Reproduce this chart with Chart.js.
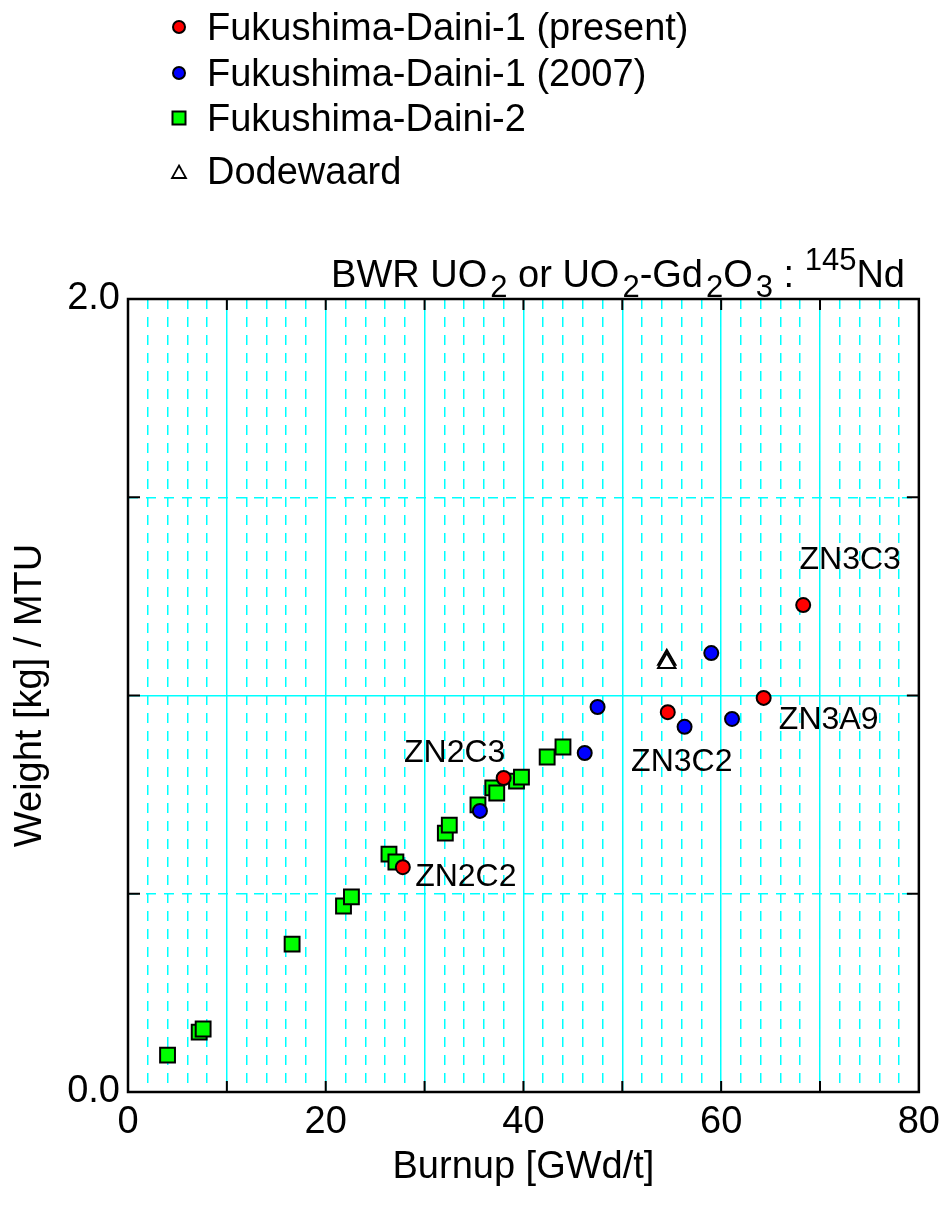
<!DOCTYPE html>
<html>
<head>
<meta charset="utf-8">
<script src="https://cdn.jsdelivr.net/npm/chart.js@4.4.0/dist/chart.umd.min.js"></script>
<style>
  html, body { margin: 0; padding: 0; background: #fff; }
  #wrap { width: 948px; height: 1218px; position: relative; }
</style>
</head>
<body>
<div id="wrap"><canvas id="chart"></canvas></div>
<script>
// Fukushima-Daini-1 (present) - labelled samples
const presentBurnup = [27.8, 38.0, 54.6, 64.3, 68.3];
const presentWeight = [0.567, 0.792, 0.958, 0.994, 1.228];
const presentLabels = ['ZN2C2', 'ZN2C3', 'ZN3C2', 'ZN3A9', 'ZN3C3'];

// Fukushima-Daini-1 (2007)
const fd1Burnup = [35.6, 46.2, 47.5, 56.3, 59.0, 61.1];
const fd1Weight = [0.709, 0.855, 0.971, 0.921, 1.107, 0.941];

// Fukushima-Daini-2
const fd2Burnup = [4.0, 7.2, 7.6, 16.6, 21.8, 22.6, 26.4, 27.1, 32.1, 32.5, 35.4, 36.9, 37.3, 39.3, 39.8, 42.4, 44.0];
const fd2Weight = [0.093, 0.151, 0.159, 0.373, 0.469, 0.492, 0.600, 0.580, 0.653, 0.673, 0.724, 0.767, 0.754, 0.784, 0.794, 0.845, 0.870];

// Dodewaard
const dodBurnup = [54.5, 54.5];
const dodWeight = [1.090, 1.082];

const seriesNames = ['Fukushima-Daini-1 (present)', 'Fukushima-Daini-1 (2007)', 'Fukushima-Daini-2', 'Dodewaard'];
const xTickLabels = [0, 20, 40, 60, 80];
const yTickLabels = [0, 2];

const FONT = '"Liberation Sans", Arial, sans-serif';
const CYAN = 'rgb(0,255,255)';

const toXY = (xs, ys) => xs.map((x, i) => ({ x: x, y: ys[i] }));

// frame, inner ticks, point labels, title and legend
const decor = {
  id: 'decor',
  beforeDatasetsDraw(chart) {
    const { ctx, chartArea: a, scales: { x, y } } = chart;
    ctx.save();
    ctx.strokeStyle = '#000';
    ctx.lineWidth = 2;
    ctx.beginPath();
    for (let v = 10; v < 80; v += 10) {
      const px = x.getPixelForValue(v);
      ctx.moveTo(px, a.bottom); ctx.lineTo(px, a.bottom - 11);
      ctx.moveTo(px, a.top); ctx.lineTo(px, a.top + 11);
    }
    for (let v = 0.5; v < 2; v += 0.5) {
      const py = y.getPixelForValue(v);
      ctx.moveTo(a.left, py); ctx.lineTo(a.left + 12, py);
      ctx.moveTo(a.right, py); ctx.lineTo(a.right - 12, py);
    }
    ctx.stroke();
    ctx.lineWidth = 2.5;
    ctx.strokeRect(a.left, a.top, a.right - a.left, a.bottom - a.top);
    ctx.restore();
  },
  afterDatasetsDraw(chart) {
    const { ctx } = chart;
    ctx.save();
    ctx.fillStyle = '#000';

    // sample labels next to the red points
    const offsets = [[63, 10], [-49, -25], [14, 50], [65, 22], [47, -45]];
    const meta = chart.getDatasetMeta(0);
    ctx.font = '32px ' + FONT;
    ctx.textAlign = 'center';
    ctx.textBaseline = 'middle';
    meta.data.forEach((pt, i) => {
      ctx.fillText(presentLabels[i], pt.x + offsets[i][0], pt.y + offsets[i][1]);
    });

    // title with sub/superscripts, right aligned
    const parts = [
      ['BWR UO', 0], ['2', 1], [' or UO', 0], ['2', 1], ['-Gd', 0], ['2', 1],
      ['O', 0], ['3', 1], [' : ', 0], ['145', -1], ['Nd', 0]
    ];
    const big = '38px ' + FONT, small = '31px ' + FONT;
    const gap = p => (p[1] === 1 ? 3 : 0);
    let total = 0;
    parts.forEach(p => { ctx.font = p[1] ? small : big; total += ctx.measureText(p[0]).width + gap(p); });
    let cx = 905 - total;
    const base = 287;
    ctx.textAlign = 'left';
    ctx.textBaseline = 'alphabetic';
    parts.forEach(p => {
      ctx.font = p[1] ? small : big;
      cx += gap(p);
      const dy = p[1] === 1 ? 10 : (p[1] === -1 ? -17 : 0);
      ctx.fillText(p[0], cx, base + dy);
      cx += ctx.measureText(p[0]).width;
    });

    // legend
    const rows = [27, 73, 118, 173];
    const textRows = [30, 76, 121, 174];
    const mx = 179;
    ctx.lineWidth = 2;
    ctx.strokeStyle = '#000';
    ctx.fillStyle = '#ff0000';
    ctx.beginPath(); ctx.arc(mx, rows[0], 6, 0, Math.PI * 2); ctx.fill(); ctx.stroke();
    ctx.fillStyle = '#0000ff';
    ctx.beginPath(); ctx.arc(mx, rows[1], 6, 0, Math.PI * 2); ctx.fill(); ctx.stroke();
    ctx.fillStyle = '#00ff00';
    ctx.beginPath(); ctx.rect(mx - 6.5, rows[2] - 6.5, 13, 13); ctx.fill(); ctx.stroke();
    ctx.fillStyle = '#fff';
    ctx.lineWidth = 1.8;
    ctx.beginPath();
    ctx.moveTo(mx, rows[3] - 7.5);
    ctx.lineTo(mx + 7, rows[3] + 5);
    ctx.lineTo(mx - 7, rows[3] + 5);
    ctx.closePath(); ctx.fill(); ctx.stroke();

    ctx.fillStyle = '#000';
    ctx.font = '38px ' + FONT;
    ctx.textAlign = 'left';
    ctx.textBaseline = 'middle';
    seriesNames.forEach((n, i) => ctx.fillText(n, 207, textRows[i]));
    ctx.restore();
  }
};

const pointBase = { showLine: false, borderColor: '#000', pointBorderWidth: 2, pointBorderColor: '#000' };

new Chart(document.getElementById('chart'), {
  type: 'scatter',
  data: {
    datasets: [
      Object.assign({ label: seriesNames[0], data: toXY(presentBurnup, presentWeight),
        pointStyle: 'circle', pointRadius: 7, pointBackgroundColor: '#ff0000', backgroundColor: '#ff0000' }, pointBase),
      Object.assign({ label: seriesNames[1], data: toXY(fd1Burnup, fd1Weight),
        pointStyle: 'circle', pointRadius: 7, pointBackgroundColor: '#0000ff', backgroundColor: '#0000ff' }, pointBase),
      Object.assign({ label: seriesNames[2], data: toXY(fd2Burnup, fd2Weight),
        pointStyle: 'rect', pointRadius: 10.5, pointBackgroundColor: '#00ff00', backgroundColor: '#00ff00' }, pointBase),
      Object.assign({ label: seriesNames[3], data: toXY(dodBurnup, dodWeight),
        pointStyle: 'triangle', pointRadius: 10, pointBackgroundColor: '#ffffff', backgroundColor: '#ffffff' }, pointBase)
    ]
  },
  options: {
    responsive: true,
    maintainAspectRatio: false,
    animation: false,
    layout: { padding: { left: 0, right: 26, top: 299, bottom: 0 } },
    plugins: { legend: { display: false }, tooltip: { enabled: false } },
    scales: {
      x: {
        type: 'linear', min: 0, max: 80,
        afterFit: s => { s.height = 126; },
        ticks: {
          stepSize: 2, autoSkip: false, maxRotation: 0, minRotation: 0, padding: 8,
          color: '#000', font: { family: FONT, size: 38 },
          callback: v => xTickLabels.includes(v) ? String(v) : ''
        },
        grid: { color: CYAN, lineWidth: 1.5, drawTicks: false },
        border: { display: false, dash: c => (c.tick && c.tick.value % 10 !== 0) ? [10, 8] : [] },
        title: { display: true, text: 'Burnup [GWd/t]', color: '#000', font: { family: FONT, size: 38 }, padding: { top: 0, bottom: 28 } }
      },
      y: {
        type: 'linear', min: 0, max: 2,
        afterFit: s => { s.width = 128; },
        ticks: {
          stepSize: 0.5, padding: 8, color: '#000', font: { family: FONT, size: 38 },
          callback: v => yTickLabels.includes(v) ? v.toFixed(1) : ''
        },
        grid: { color: CYAN, lineWidth: 1.5, drawTicks: false },
        border: { display: false, dash: c => (c.tick && c.tick.value % 1 !== 0) ? [10, 8] : [] },
        title: { display: true, text: 'Weight [kg] / MTU', color: '#000', font: { family: FONT, size: 38 }, padding: { top: 8, bottom: 0 } }
      }
    }
  },
  plugins: [decor]
});
</script>
</body>
</html>
